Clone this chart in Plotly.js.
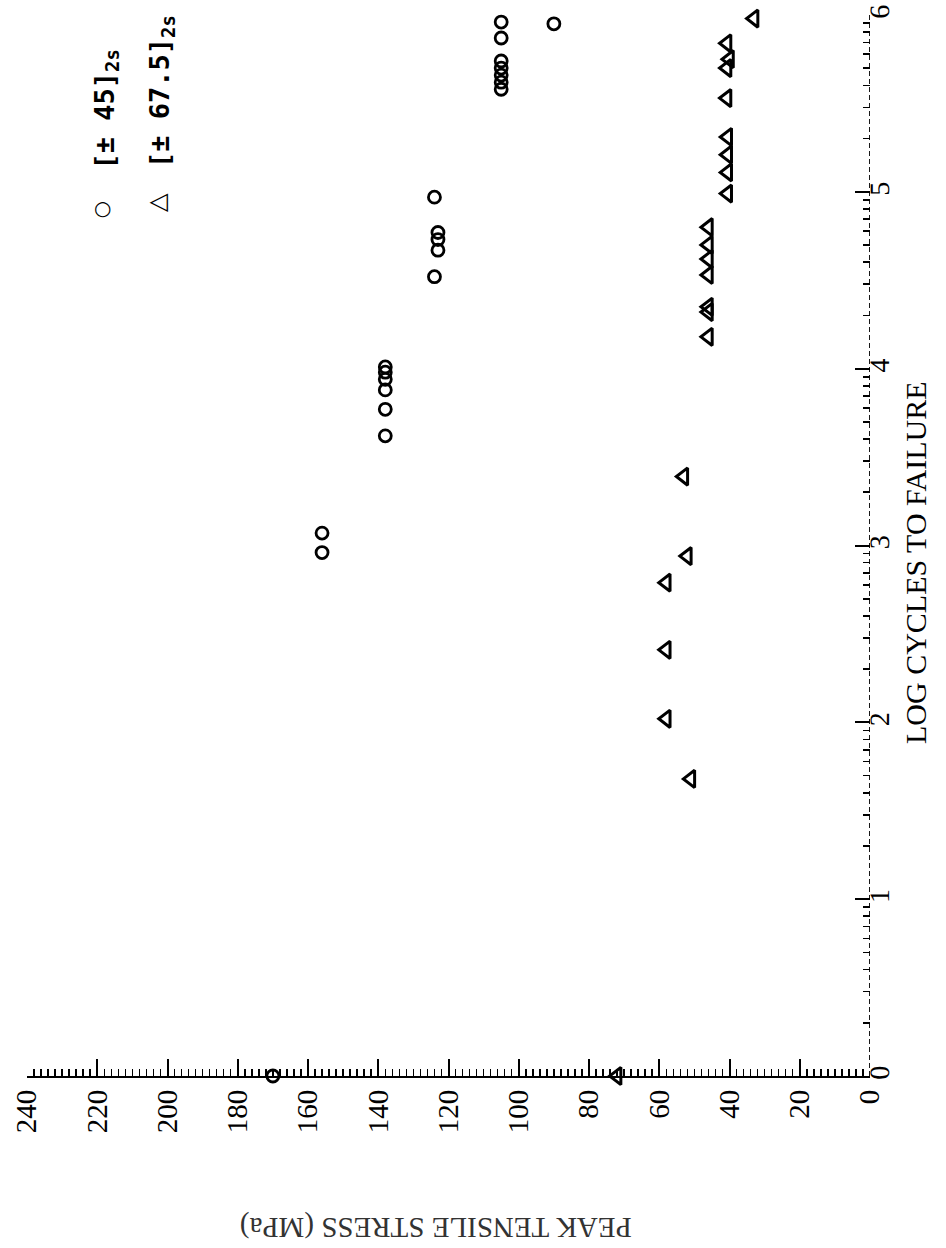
<!DOCTYPE html>
<html>
<head>
<meta charset="utf-8">
<script src="https://cdn.plot.ly/plotly-3.0.1.min.js"></script>
<style>
  html, body { margin: 0; padding: 0; background: #ffffff; }
  #chart { width: 946px; height: 1248px; }
</style>
</head>
<body>
<div id="chart"></div>
<script>
// ---- data (stress in MPa, log cycles to failure) ----
const circleStress = [170, 156, 156, 138, 138, 138, 138, 138, 138, 124, 123, 123, 123, 124, 105, 105, 105, 105, 105, 105, 105, 90];
const circleLog    = [0, 3.07, 2.96, 4.01, 3.98, 3.94, 3.88, 3.77, 3.62, 4.97, 4.77, 4.73, 4.67, 4.52, 5.96, 5.87, 5.74, 5.70, 5.66, 5.62, 5.58, 5.95];

const triStress = [72, 51, 58, 58, 58, 52, 53, 46, 46, 46, 46, 46, 46, 46, 40.5, 40.5, 40.5, 40.5, 40.7, 40.7, 40, 40.7, 33];
const triLog    = [0, 1.68, 2.02, 2.41, 2.79, 2.94, 3.39, 4.18, 4.35, 4.32, 4.53, 4.62, 4.70, 4.80, 4.99, 5.11, 5.21, 5.31, 5.53, 5.70, 5.75, 5.84, 5.98];

const stressTicks = [0, 20, 40, 60, 80, 100, 120, 140, 160, 180, 200, 220, 240];
const logTicks = [0, 1, 2, 3, 4, 5, 6];
const seriesNames = ['[± 45]<sub>2s</sub>', '[± 67.5]<sub>2s</sub>'];
const xTitle = 'PEAK TENSILE STRESS (MPa)';
const yTitle = 'LOG CYCLES TO FAILURE';

// log-cycle minor ticks inside each decade
const logMinor = [];
logTicks.slice(0, -1).forEach(d => {
  for (let k = 2; k <= 9; k++) logMinor.push(d + Math.log10(k));
});

const serif = 'Liberation Serif, Times New Roman, serif';
const mono = 'DejaVu Sans Mono, monospace';

const traces = [
  {
    x: circleStress, y: circleLog, type: 'scatter', mode: 'markers',
    name: 'pm45', cliponaxis: false,
    marker: { symbol: 'circle-open', size: 12, color: '#000', line: { color: '#000', width: 2.8 } }
  },
  {
    x: triStress, y: triLog, type: 'scatter', mode: 'markers',
    name: 'pm67', cliponaxis: false,
    marker: { symbol: 'triangle-left-open', size: 15, color: '#000', line: { color: '#000', width: 3 } }
  }
];

const layout = {
  width: 946, height: 1248,
  margin: { l: 27, r: 76, t: 15, b: 172 },
  paper_bgcolor: '#ffffff', plot_bgcolor: '#ffffff',
  showlegend: false,
  xaxis: {
    range: [240, 0], autorange: false,
    tickmode: 'array', tickvals: stressTicks, ticktext: stressTicks.map(String),
    ticks: 'inside', ticklen: 17, tickwidth: 2, tickcolor: '#000',
    minor: { dtick: 2, tick0: 0, ticks: 'inside', ticklen: 7, tickwidth: 1.5, tickcolor: '#000', showgrid: false },
    tickangle: -90,
    tickfont: { family: serif, size: 29, color: '#000' },
    showline: true, linecolor: '#000', linewidth: 2.2,
    showgrid: false, zeroline: false, automargin: false, anchor: 'y'
  },
  xaxis2: {
    range: [240, 0], autorange: false, overlaying: 'x', anchor: 'y', side: 'bottom',
    tickmode: 'linear', tick0: 0, dtick: 10,
    ticks: 'inside', ticklen: 11, tickwidth: 1.5, tickcolor: '#000',
    showticklabels: false, showline: false, showgrid: false, zeroline: false, automargin: false
  },
  yaxis: {
    range: [0, 6], autorange: false, side: 'right', anchor: 'x',
    tickmode: 'array', tickvals: logTicks, ticktext: logTicks.map(String),
    ticks: 'inside', ticklen: 15, tickwidth: 2, tickcolor: '#000',
    minor: { tickmode: 'array', tickvals: logMinor, ticks: 'inside', ticklen: 7, tickwidth: 1.6, tickcolor: '#000', showgrid: false },
    tickangle: -89.9,
    ticklabelshift: 8,
    ticklabelstandoff: 4,
    tickfont: { family: serif, size: 28, color: '#000' },
    showline: false, showgrid: false, zeroline: false, automargin: false
  },
  shapes: [
    { type: 'line', xref: 'x', yref: 'paper', x0: 0, x1: 0, y0: 0, y1: 1,
      line: { color: '#000', width: 1.8, dash: '5px,3px' } }
  ],
  annotations: [
    { text: yTitle, xref: 'paper', yref: 'paper', x: 1.0534, y: 0.4835,
      xanchor: 'center', yanchor: 'middle', textangle: -90, showarrow: false,
      font: { family: serif, size: 30, color: '#000' } },
    { text: xTitle, xref: 'paper', yref: 'paper', x: 0.485, y: -0.1433,
      xanchor: 'center', yanchor: 'middle', textangle: 180, showarrow: false,
      font: { family: serif, size: 29, color: '#333' } },
    // legend
    { text: '○', xref: 'paper', yref: 'paper', x: (102 - 27) / 843, y: (1076 - 208) / 1061,
      xanchor: 'center', yanchor: 'middle', showarrow: false,
      font: { family: 'DejaVu Sans, sans-serif', size: 20, weight: 'bold', color: '#000' } },
    { text: seriesNames[0], xref: 'paper', yref: 'paper', x: (86 - 27) / 843, y: (1076 - 172) / 1061,
      xanchor: 'left', yanchor: 'bottom', textangle: -90, showarrow: false,
      font: { family: mono, size: 27, weight: 'bold', color: '#000' } },
    { text: '△', xref: 'paper', yref: 'paper', x: (157 - 27) / 843, y: (1076 - 203) / 1061,
      xanchor: 'center', yanchor: 'middle', textangle: -90, showarrow: false,
      font: { family: 'DejaVu Sans, sans-serif', size: 24, weight: 'bold', color: '#000' } },
    { text: seriesNames[1], xref: 'paper', yref: 'paper', x: (142 - 27) / 843, y: (1076 - 170) / 1061,
      xanchor: 'left', yanchor: 'bottom', textangle: -90, showarrow: false,
      font: { family: mono, size: 27, weight: 'bold', color: '#000' } }
  ]
};

Plotly.newPlot('chart', traces, layout, { displayModeBar: false, staticPlot: true });
</script>
</body>
</html>
